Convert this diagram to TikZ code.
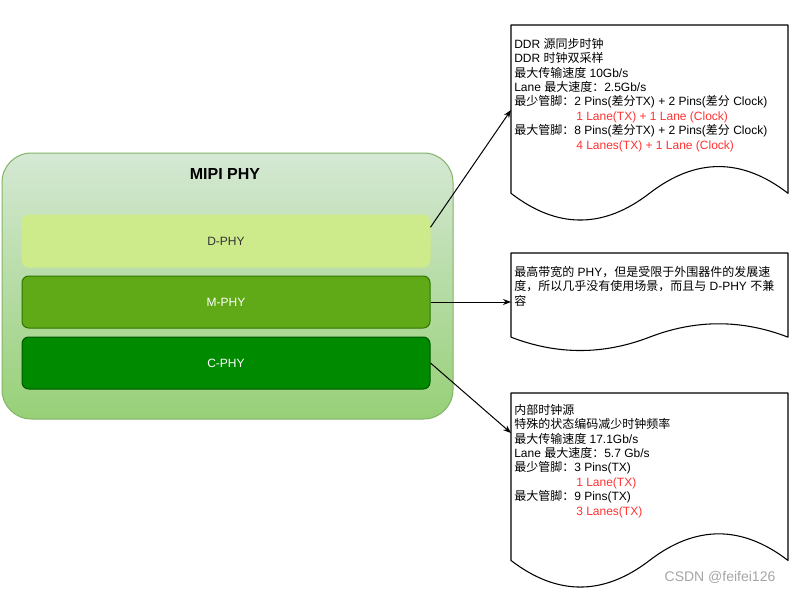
\documentclass[tikz,border=0pt]{standalone}
\usepackage{fontspec}
\setmainfont{Liberation Sans}
\newfontfamily\cjk{Noto Sans CJK SC}
\usetikzlibrary{arrows.meta,calc}
\definecolor{outerTop}{HTML}{D5E8D4}
\definecolor{outerBot}{HTML}{97D077}
\definecolor{outerLine}{HTML}{82B366}
\definecolor{dFill}{HTML}{CDEB8B}
\definecolor{mFill}{HTML}{60A917}
\definecolor{mLine}{HTML}{2D7600}
\definecolor{cFill}{HTML}{008A00}
\definecolor{cLine}{HTML}{005700}
\definecolor{redtxt}{HTML}{FF3333}
\definecolor{darktxt}{HTML}{333333}
\definecolor{wmark}{HTML}{A6A6A6}
\newcommand\zhs[1]{{\cjk #1}}
\newcommand\rind{\hspace*{46.5pt}}
\tikzset{
  docline/.style={draw=black, line width=0.8pt, fill=white, line join=round},
  rowbox/.style={rounded corners=5pt, minimum width=306pt, minimum height=39pt, font=\fontsize{9}{10.8}\selectfont, line width=0.75pt},
  txt/.style={anchor=north west, inner sep=0pt, align=left, font=\fontsize{9}{10.8}\selectfont},
  conn/.style={draw=black, line width=0.75pt, -{Stealth[length=6pt,width=4.5pt]}},
}
\newcommand\docshape[4]{\draw[docline] (#1,#2) -- ({#1+#3},#2) -- ({#1+#3},{#2+0.85*#4})
  .. controls ({#1+#3*5/6},{#2+0.67*#4}) and ({#1+#3*2/3},{#2+0.67*#4}) .. ({#1+#3/2},{#2+0.85*#4})
  .. controls ({#1+#3/3},{#2+1.03*#4}) and ({#1+#3/6},{#2+1.03*#4}) .. (#1,{#2+0.85*#4}) -- cycle;}
\begin{document}
\begin{tikzpicture}[x=0.75pt,y=-0.75pt]
\useasboundingbox[fill=white] (0,0) rectangle (793,592);
% container
\node[draw=outerLine, top color=outerTop, bottom color=outerBot, rounded corners=22pt,
      minimum width=338.25pt, minimum height=199.5pt, line width=0.75pt] (mipi) at (227.5,286) {};
\node[font=\bfseries\fontsize{12}{14}\selectfont] (title) at (225,174) {MIPI PHY};
\node[rowbox, fill=dFill, draw=dFill, text=darktxt] (d) at (226,241) {D-PHY};
\node[rowbox, fill=mFill, draw=mLine, text=white] (m) at (226,302) {M-PHY};
\node[rowbox, fill=cFill, draw=cLine, text=white] (c) at (226,363) {C-PHY};
% documents
\docshape{511}{25}{277}{198}
\docshape{511}{253}{277}{99}
\docshape{511}{393}{277}{197}
\coordinate (in1) at (511,110);
\coordinate (in2) at (511,302);
\coordinate (in3) at (511,433);
\node[txt] (t1) at (514,38) {DDR \zhs{源同步时钟}\\
DDR \zhs{时钟双采样}\\
\zhs{最大传输速度} 10Gb/s\\
Lane \zhs{最大速度：}2.5Gb/s\\
\zhs{最少管脚：}2 Pins(\zhs{差分}TX) + 2 Pins(\zhs{差分} Clock)\\
\rind\textcolor{redtxt}{1 Lane(TX) + 1 Lane (Clock)}\\
\zhs{最大管脚：}8 Pins(\zhs{差分}TX) + 2 Pins(\zhs{差分} Clock)\\
\rind\textcolor{redtxt}{4 Lanes(TX) + 1 Lane (Clock)}};
\node[txt] (t2) at (514,266) {\zhs{最高带宽的} PHY\zhs{，但是受限于外围器件的发展速}\\
\zhs{度，所以几乎没有使用场景，而且与} D-PHY \zhs{不兼}\\
\zhs{容}};
\node[txt] (t3) at (514,404) {\zhs{内部时钟源}\\
\zhs{特殊的状态编码减少时钟频率}\\
\zhs{最大传输速度} 17.1Gb/s\\
Lane \zhs{最大速度：}5.7 Gb/s\\
\zhs{最少管脚：}3 Pins(TX)\\
\rind\textcolor{redtxt}{1 Lane(TX)}\\
\zhs{最大管脚：}9 Pins(TX)\\
\rind\textcolor{redtxt}{3 Lanes(TX)}};
% connectors
\draw[conn] ($(d.north east)!0.24!(d.south east)$) -- (in1);
\draw[conn] (m.east) -- (in2);
\draw[conn] (c.east) -- (in3);
% watermark
\node[text=wmark, font=\fontsize{10.5}{12}\selectfont] (wm) at (720,577) {CSDN @feifei126};
\end{tikzpicture}
\end{document}
